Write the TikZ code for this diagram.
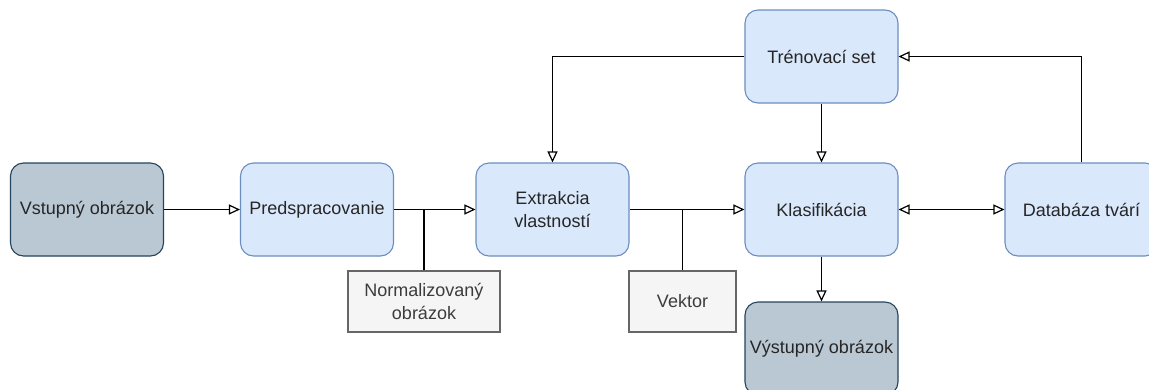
\documentclass[tikz,border=0pt]{standalone}
\usepackage{fontspec}
\setmainfont{Liberation Sans}
\usetikzlibrary{arrows.meta}
\definecolor{bfill}{HTML}{DAE8FC}
\definecolor{bdraw}{HTML}{6C8EBF}
\definecolor{sfill}{HTML}{BAC8D3}
\definecolor{sdraw}{HTML}{23445D}
\definecolor{gfill}{HTML}{F5F5F5}
\definecolor{gdraw}{HTML}{666666}
\definecolor{txt}{HTML}{262626}
\begin{document}
\begin{tikzpicture}[x=1pt,y=-1pt,
  base/.style={line width=1.1pt, minimum width=153pt, minimum height=93pt, inner sep=0pt,
    align=center, text=txt, font=\fontsize{18}{22.5}\selectfont, rounded corners=13pt},
  bluebox/.style={base, draw=bdraw, fill=bfill},
  slatebox/.style={base, draw=sdraw, fill=sfill},
  greybox/.style={line width=1.1pt, draw=gdraw, fill=gfill, inner sep=0pt, minimum height=61pt,
    align=center, text=txt!90!white, font=\fontsize{18}{22.5}\selectfont},
  conn/.style={line width=1.4pt, black},
  tip/.style={Triangle[open, length=11pt, width=10pt, line width=1.2pt]},
  arr/.style={conn, -{Triangle[open, length=11pt, width=10pt, line width=1.2pt]}},
  arrboth/.style={conn, {Triangle[open, length=11pt, width=10pt, line width=1.2pt]}-{Triangle[open, length=11pt, width=10pt, line width=1.2pt]}}
]
\useasboundingbox (0,0) rectangle (1149,389);
\node[slatebox] (vst) at (87,209.5) {Vstupný obrázok};
\node[bluebox] (pre) at (317,209.5) {Predspracovanie};
\node[bluebox] (ext) at (552.5,209.5) {Extrakcia\\vlastností};
\node[bluebox] (kla) at (821.5,209.5) {Klasifikácia};
\node[bluebox] (tre) at (821.5,56.5) {Trénovací set};
\node[bluebox] (dbt) at (1081.5,209.5) {Databáza tvárí};
\node[slatebox] (vys) at (821.5,348.5) {Výstupný obrázok};
\node[greybox, minimum width=152pt] (nor) at (424,301.5) {Normalizovaný\\obrázok};
\node[greybox, minimum width=107pt] (vek) at (682.5,301.5) {Vektor};

\draw[arr] (vst) -- (pre);
\draw[arr] (pre) -- (ext);
\draw[conn] (nor.north) -- (nor.north |- pre.east);
\draw[arr] (ext) -- (kla);
\draw[conn] (vek.north) -- (vek.north |- ext.east);
\draw[arr] (tre.west) -| (ext.north);
\draw[arr] (tre) -- (kla);
\draw[arrboth] (kla) -- (dbt);
\draw[arr] (dbt.north) |- (tre.east);
\draw[arr] (kla) -- (vys);
\end{tikzpicture}
\end{document}
